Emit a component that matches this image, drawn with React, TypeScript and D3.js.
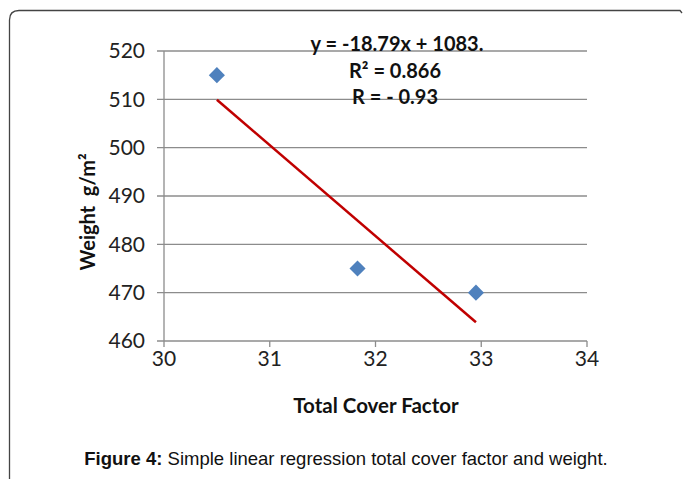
import * as d3 from 'd3';

const xTicks = [30, 31, 32, 33, 34];
const yTicks = [460, 470, 480, 490, 500, 510, 520];
const coverFactor = [30.5, 31.83, 32.95];
const weight = [515, 475, 470];
const slope = -18.79;
const intercept = 1083;
const eqLines = ['y = -18.79x + 1083.', 'R² = 0.866', 'R = - 0.93'];

export default function App() {
  const x = d3.scaleLinear().domain([30, 34]).range([164, 587]);
  const y = d3.scaleLinear().domain([460, 520]).range([341, 51]);
  const fitX = [coverFactor[0], coverFactor[coverFactor.length - 1]];
  const line = d3.line<number>()
    .x(d => x(d))
    .y(d => y(slope * d + intercept));
  const diamond = d3.symbol().type(d3.symbolDiamond2).size(165)();
  const font = 'Lato, "Open Sans", sans-serif';

  return (
    <svg width={683} height={479} style={{ position: 'absolute', left: 0, top: 0 }}>
      <rect width={683} height={479} fill="#fff" />
      <path d="M 9.5 479 V 20 Q 9.5 10.5 19 10.5 H 680 L 682 13" fill="none" stroke="#444" strokeWidth={1.3} />
      {yTicks.map(t => (
        <g key={t}>
          <line x1={157} x2={x(34)} y1={y(t)} y2={y(t)} stroke="#8c8c8c" strokeWidth={1.3} />
          <text x={145} y={y(t)} dy="0.35em" textAnchor="end" fontFamily={font} fontSize={21} fill="#222">{t}</text>
        </g>
      ))}
      <line x1={x(30)} x2={x(30)} y1={y(520)} y2={y(460)} stroke="#8c8c8c" strokeWidth={1.3} />
      {xTicks.map(t => (
        <g key={t}>
          <line x1={x(t)} x2={x(t)} y1={y(460)} y2={y(460) + 6} stroke="#8c8c8c" strokeWidth={1.3} />
          <text x={x(t)} y={366} textAnchor="middle" fontFamily={font} fontSize={21} fill="#222">{t}</text>
        </g>
      ))}
      {coverFactor.map((c, i) => (
        <path key={i} d={diamond} transform={`translate(${x(c)},${y(weight[i])})`} fill="#4f81bd" />
      ))}
      <path d={line(fitX) ?? ''} fill="none" stroke="#c00000" strokeWidth={2.5} />
      {eqLines.map((s, i) => (
        <text key={i} x={i === 0 ? 397 : 395} y={51 + i * 26.5} textAnchor="middle" fontFamily={font} fontSize={20} fontWeight="bold" fill="#111">{s}</text>
      ))}
      <text x={376} y={413} textAnchor="middle" fontFamily={font} fontSize={20.5} fontWeight="bold" fill="#111">Total Cover Factor</text>
      <text transform="translate(95,212) rotate(-90)" textAnchor="middle" fontFamily={font} fontSize={20} fontWeight="bold" fill="#111" style={{ whiteSpace: 'pre' }}>{'Weight  g/m²'}</text>
      <text x={346} y={465} textAnchor="middle" fontFamily='"Liberation Sans", Arial, sans-serif' fontSize={18.5} fill="#111">
        <tspan fontWeight="bold">Figure 4:</tspan> Simple linear regression total cover factor and weight.
      </text>
    </svg>
  );
}
